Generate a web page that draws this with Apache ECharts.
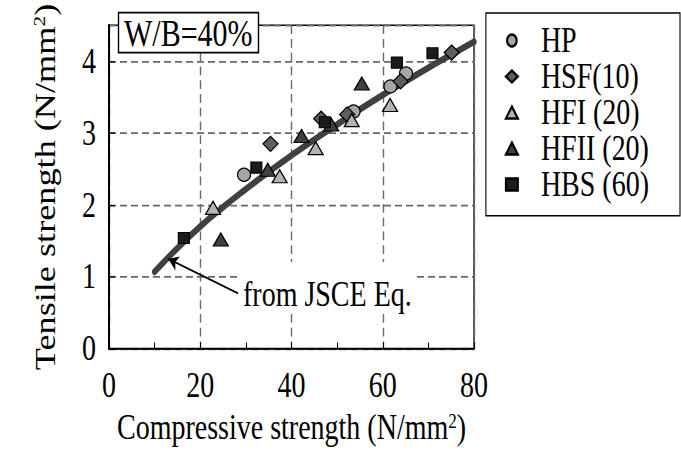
<!DOCTYPE html>
<html>
<head>
<meta charset="utf-8">
<script src="https://cdn.jsdelivr.net/npm/echarts@6/dist/echarts.min.js"></script>
<style>
html,body{margin:0;padding:0;background:#fff;overflow:hidden;}
#page{width:681px;height:455px;overflow:hidden;position:relative;}
#chart{width:681px;height:364px;transform:scaleY(1.25);transform-origin:0 0;position:absolute;left:0;top:0;}
</style>
</head>
<body>
<div id="page"><div id="chart"></div></div>
<script>
// ---- data ----
var seriesNames = ['HP', 'HSF(10)', 'HFI (20)', 'HFII (20)', 'HBS (60)'];
var hp   = [[29.6, 2.42], [53.6, 3.30], [61.7, 3.65], [65.1, 3.83]];
var hsf  = [[35.4, 2.85], [46.5, 3.20], [52.2, 3.26], [63.9, 3.72], [75.1, 4.12]];
var hfi  = [[22.8, 1.96], [37.4, 2.40], [45.3, 2.79], [53.2, 3.18], [61.6, 3.39]];
var hfii = [[24.5, 1.52], [34.8, 2.49], [42.2, 2.96], [48.7, 3.12], [55.4, 3.69]];
var hbs  = [[16.4, 1.54], [32.3, 2.52], [47.3, 3.15], [63.1, 3.98], [70.9, 4.11]];
var jsceX = [10, 15, 20, 25, 30, 35, 40, 45, 50, 55, 60, 65, 70, 75, 80];
var jsceY = [1.07, 1.40, 1.70, 1.97, 2.22, 2.46, 2.69, 2.91, 3.12, 3.33, 3.53, 3.72, 3.91, 4.09, 4.27];
var xTicks = [0, 20, 40, 60, 80];
var yTicks = [0, 1, 2, 3, 4];
var arrowFrom = [28.3, 0.77];
var arrowTo = [13.0, 1.25];

// the reference's lettering is drawn taller than it is wide: the whole drawing is
// laid out at 1/SY height and stretched back vertically by CSS (see #chart).
var SY = 1.25;
var FONT = "'Liberation Serif','Times New Roman',serif";
var chart = echarts.init(document.getElementById('chart'), null, {renderer: 'svg', width: 681, height: 364});

function pairs(xs, ys) { return xs.map(function (x, i) { return [x, ys[i]]; }); }
function sz(w, h) { return [w, h / SY]; }

var dashed = {show: true, lineStyle: {color: '#6a6a6a', type: [7, 4], width: 1.4}};
var rich = {s: {fontFamily: FONT, fontSize: 17, padding: [0, 0, 11, 0], color: '#000'}};

var option = {
  backgroundColor: '#fff',
  animation: false,
  title: {
    text: 'W/B=40%',
    left: 118, top: 9.6,
    padding: [2, 6, 1, 6],
    borderColor: '#000', borderWidth: 1.4,
    backgroundColor: '#fff',
    textStyle: {fontFamily: FONT, fontSize: 30, fontWeight: 'normal', color: '#000', lineHeight: 30},
    z: 10
  },
  legend: {
    orient: 'vertical',
    right: 1, top: 10.4,
    padding: [8, 31, 11, 19],
    itemGap: 0.8,
    itemWidth: 12, itemHeight: 12 / SY,
    borderColor: '#000', borderWidth: 1.1,
    backgroundColor: '#fff',
    textStyle: {fontFamily: FONT, fontSize: 28, color: '#000', lineHeight: 28, padding: [0, 0, 0, 18]},
    data: seriesNames
  },
  grid: {
    left: 109, right: 207, top: 5.6, bottom: 85,
    show: true, borderColor: '#000', borderWidth: 1.3, backgroundColor: 'transparent'
  },
  xAxis: {
    type: 'value', min: 0, max: 80, interval: 20,
    name: 'Compressive strength (N/mm{s|2})',
    nameLocation: 'middle', nameGap: 49,
    nameTextStyle: {fontFamily: FONT, fontSize: 28, color: '#000', rich: rich},
    axisLine: {show: true, lineStyle: {color: '#000', width: 1.7}},
    axisTick: {show: true, inside: true, length: 5, lineStyle: {color: '#000', width: 1}},
    minorTick: {show: true, splitNumber: 2, length: 5, lineStyle: {color: '#000', width: 1}},
    axisLabel: {margin: 15, fontFamily: FONT, fontSize: 28, color: '#000',
      formatter: function (v) { return xTicks.indexOf(v) >= 0 ? String(v) : ''; }},
    splitLine: dashed
  },
  yAxis: {
    type: 'value', min: 0, max: 4.5, interval: 1,
    name: 'Tensile strength (N/mm{s|2})',
    nameLocation: 'middle', nameGap: 49, nameRotate: 90,
    nameTextStyle: {fontFamily: FONT, fontSize: 29, color: '#000',
      rich: {s: {fontFamily: FONT, fontSize: 17, padding: [0, 0, 12, 0], color: '#000'}}},
    axisLine: {show: true, lineStyle: {color: '#000', width: 2}},
    axisTick: {show: true, inside: true, length: 6, lineStyle: {color: '#000', width: 1}},
    axisLabel: {margin: 13, fontFamily: FONT, fontSize: 28, color: '#000', showMaxLabel: false,
      formatter: function (v) { return yTicks.indexOf(v) >= 0 ? String(v) : ''; }},
    splitLine: dashed
  },
  graphic: [{
    type: 'text', left: 240, top: 209.6, z: 20,
    style: {text: 'from JSCE Eq.', font: '28px ' + FONT, fill: '#000',
      backgroundColor: '#fff', padding: [12, 3, 1, 3]}
  }],
  series: [
    {
      name: 'JSCE', type: 'line', data: pairs(jsceX, jsceY), smooth: true,
      showSymbol: false, symbol: 'none', z: 1,
      lineStyle: {color: '#404040', width: 5.3, cap: 'round'},
      markLine: {
        silent: true, symbol: ['none', 'arrow'], symbolSize: [9, 10],
        lineStyle: {color: '#000', width: 1.4, type: 'solid'},
        label: {show: false},
        data: [[{coord: arrowFrom}, {coord: arrowTo}]]
      }
    },
    {name: seriesNames[0], type: 'scatter', data: hp, symbol: 'circle', symbolSize: sz(13, 13), z: 5,
      itemStyle: {color: '#a6a6a6', borderColor: '#000', borderWidth: 1.1, opacity: 1}},
    {name: seriesNames[1], type: 'scatter', data: hsf, symbol: 'diamond', symbolSize: sz(15, 15), z: 5,
      itemStyle: {color: '#5e5e5e', borderColor: '#000', borderWidth: 1.1, opacity: 1}},
    {name: seriesNames[2], type: 'scatter', data: hfi, symbol: 'triangle', symbolSize: sz(15, 13), z: 5,
      itemStyle: {color: '#b3b3b3', borderColor: '#000', borderWidth: 1.1, opacity: 1}},
    {name: seriesNames[3], type: 'scatter', data: hfii, symbol: 'triangle', symbolSize: sz(15, 13), z: 5,
      itemStyle: {color: '#404040', borderColor: '#000', borderWidth: 1.1, opacity: 1}},
    {name: seriesNames[4], type: 'scatter', data: hbs, symbol: 'rect', symbolSize: sz(11, 11), z: 5,
      itemStyle: {color: '#1c1c1c', borderColor: '#000', borderWidth: 1, opacity: 1}}
  ]
};
chart.setOption(option);
</script>
</body>
</html>
